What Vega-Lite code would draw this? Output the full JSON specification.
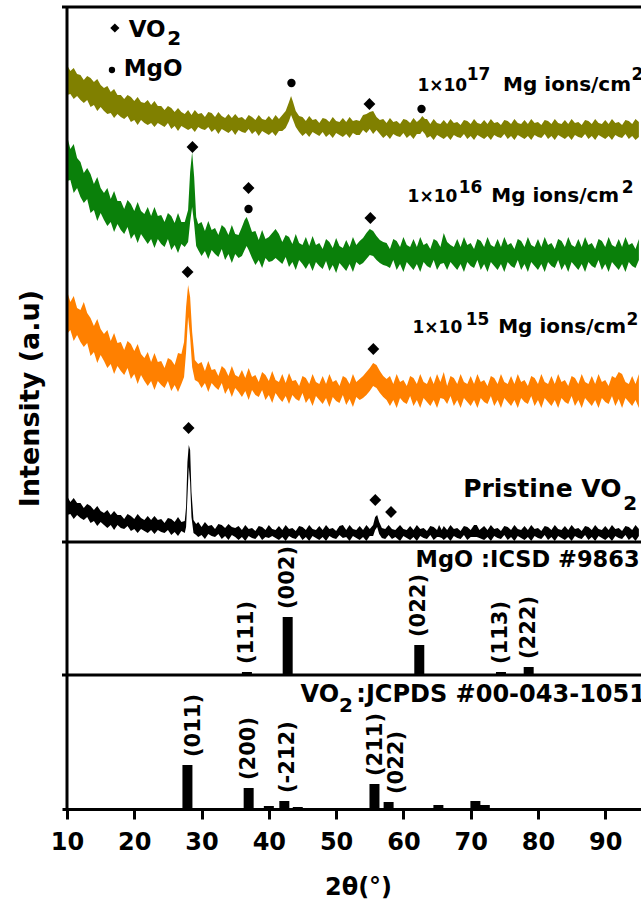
{
"$schema": "https://vega.github.io/schema/vega-lite/v6.json",
"width": 579, "height": 802,
"autosize": {"type": "none"},
"padding": {"left": 62, "top": 7, "right": 0, "bottom": 92},
"background": "white",
"config": {"view": {"stroke": null}, "font": "DejaVu Sans"},
"datasets": {
"spec": [
{"s":"L","x":10,"l":447,"h":477},{"s":"L","x":10.5,"l":448,"h":471},{"s":"L","x":11,"l":443,"h":474},{"s":"L","x":11.5,"l":446,"h":468},{"s":"L","x":12,"l":442,"h":467},{"s":"L","x":12.5,"l":439,"h":462},{"s":"L","x":13,"l":442,"h":466},{"s":"L","x":13.5,"l":435,"h":464},{"s":"L","x":14,"l":437,"h":460},{"s":"L","x":14.5,"l":431,"h":463},{"s":"L","x":15,"l":435,"h":457},{"s":"L","x":15.5,"l":431,"h":454},{"s":"L","x":16,"l":428,"h":456},{"s":"L","x":16.5,"l":429,"h":450},{"s":"L","x":17,"l":424,"h":453},{"s":"L","x":17.5,"l":428,"h":447},{"s":"L","x":18,"l":425,"h":447},{"s":"L","x":18.5,"l":423,"h":443},{"s":"L","x":19,"l":426,"h":447},{"s":"L","x":19.5,"l":420,"h":445},{"s":"L","x":20,"l":422,"h":441},{"s":"L","x":20.5,"l":417,"h":445},{"s":"L","x":21,"l":422,"h":440},{"s":"L","x":21.5,"l":419,"h":439},{"s":"L","x":22,"l":417,"h":442},{"s":"L","x":22.5,"l":419,"h":437},{"s":"L","x":23,"l":415,"h":441},{"s":"L","x":23.5,"l":419,"h":436},{"s":"L","x":24,"l":417,"h":436},{"s":"L","x":24.5,"l":415,"h":432},{"s":"L","x":25,"l":419,"h":436},{"s":"L","x":25.5,"l":413,"h":434},{"s":"L","x":26,"l":416,"h":430},{"s":"L","x":26.5,"l":411,"h":434},{"s":"L","x":27,"l":416,"h":430},{"s":"L","x":27.5,"l":414,"h":428},{"s":"L","x":28,"l":412,"h":432},{"s":"L","x":28.5,"l":414,"h":427},{"s":"L","x":29,"l":410,"h":432},{"s":"L","x":29.5,"l":415,"h":428},{"s":"L","x":30,"l":413,"h":429},{"s":"L","x":30.5,"l":412,"h":425},{"s":"L","x":31,"l":415,"h":430},{"s":"L","x":31.5,"l":410,"h":429},{"s":"L","x":32,"l":413,"h":425},{"s":"L","x":32.5,"l":408,"h":430},{"s":"L","x":33,"l":413,"h":426},{"s":"L","x":33.5,"l":411,"h":424},{"s":"L","x":34,"l":409,"h":428},{"s":"L","x":34.5,"l":412,"h":424},{"s":"L","x":35,"l":407,"h":428},{"s":"L","x":35.5,"l":412,"h":424},{"s":"L","x":36,"l":410,"h":425},{"s":"L","x":36.5,"l":409,"h":422},{"s":"L","x":37,"l":413,"h":427},{"s":"L","x":37.5,"l":408,"h":425},{"s":"L","x":38,"l":411,"h":422},{"s":"L","x":38.5,"l":406,"h":427},{"s":"L","x":39,"l":411,"h":423},{"s":"L","x":39.5,"l":409,"h":422},{"s":"L","x":40,"l":407,"h":426},{"s":"L","x":40.5,"l":410,"h":422},{"s":"L","x":41,"l":406,"h":427},{"s":"L","x":41.5,"l":411,"h":423},{"s":"L","x":42,"l":411,"h":427},{"s":"L","x":42.5,"l":414,"h":431},{"s":"L","x":43,"l":421,"h":440},{"s":"L","x":43.3,"l":427,"h":446},{"s":"L","x":43.6,"l":422,"h":440},{"s":"L","x":44,"l":415,"h":431},{"s":"L","x":44.5,"l":410,"h":426},{"s":"L","x":45,"l":406,"h":425},{"s":"L","x":45.5,"l":409,"h":421},{"s":"L","x":46,"l":405,"h":426},{"s":"L","x":46.5,"l":410,"h":422},{"s":"L","x":47,"l":408,"h":423},{"s":"L","x":47.5,"l":406,"h":419},{"s":"L","x":48,"l":410,"h":424},{"s":"L","x":48.5,"l":405,"h":423},{"s":"L","x":49,"l":408,"h":420},{"s":"L","x":49.5,"l":404,"h":425},{"s":"L","x":50,"l":409,"h":421},{"s":"L","x":50.5,"l":407,"h":420},{"s":"L","x":51,"l":405,"h":424},{"s":"L","x":51.5,"l":408,"h":420},{"s":"L","x":52,"l":404,"h":425},{"s":"L","x":52.5,"l":409,"h":421},{"s":"L","x":53,"l":407,"h":422},{"s":"L","x":53.5,"l":407,"h":421},{"s":"L","x":54,"l":412,"h":427},{"s":"L","x":54.5,"l":409,"h":428},{"s":"L","x":55,"l":413,"h":430},{"s":"L","x":55.5,"l":408,"h":431},{"s":"L","x":56,"l":412,"h":425},{"s":"L","x":56.5,"l":408,"h":422},{"s":"L","x":57,"l":404,"h":423},{"s":"L","x":57.5,"l":407,"h":419},{"s":"L","x":58,"l":403,"h":424},{"s":"L","x":58.5,"l":408,"h":420},{"s":"L","x":59,"l":406,"h":421},{"s":"L","x":59.5,"l":405,"h":418},{"s":"L","x":60,"l":409,"h":423},{"s":"L","x":60.5,"l":404,"h":422},{"s":"L","x":61,"l":407,"h":419},{"s":"L","x":61.5,"l":403,"h":424},{"s":"L","x":62,"l":408,"h":420},{"s":"L","x":62.5,"l":408,"h":423},{"s":"L","x":62.8,"l":411,"h":426},{"s":"L","x":63.2,"l":408,"h":423},{"s":"L","x":63.5,"l":404,"h":423},{"s":"L","x":64,"l":406,"h":418},{"s":"L","x":64.5,"l":402,"h":423},{"s":"L","x":65,"l":407,"h":419},{"s":"L","x":65.5,"l":405,"h":418},{"s":"L","x":66,"l":403,"h":422},{"s":"L","x":66.5,"l":406,"h":418},{"s":"L","x":67,"l":402,"h":423},{"s":"L","x":67.5,"l":407,"h":419},{"s":"L","x":68,"l":405,"h":420},{"s":"L","x":68.5,"l":404,"h":417},{"s":"L","x":69,"l":408,"h":422},{"s":"L","x":69.5,"l":403,"h":421},{"s":"L","x":70,"l":406,"h":418},{"s":"L","x":70.5,"l":402,"h":423},{"s":"L","x":71,"l":407,"h":419},{"s":"L","x":71.5,"l":405,"h":418},{"s":"L","x":72,"l":403,"h":422},{"s":"L","x":72.5,"l":406,"h":418},{"s":"L","x":73,"l":402,"h":423},{"s":"L","x":73.5,"l":407,"h":419},{"s":"L","x":74,"l":405,"h":420},{"s":"L","x":74.5,"l":404,"h":417},{"s":"L","x":75,"l":408,"h":422},{"s":"L","x":75.5,"l":403,"h":421},{"s":"L","x":76,"l":406,"h":418},{"s":"L","x":76.5,"l":402,"h":423},{"s":"L","x":77,"l":407,"h":419},{"s":"L","x":77.5,"l":405,"h":418},{"s":"L","x":78,"l":403,"h":422},{"s":"L","x":78.5,"l":406,"h":418},{"s":"L","x":79,"l":402,"h":423},{"s":"L","x":79.5,"l":407,"h":419},{"s":"L","x":80,"l":405,"h":420},{"s":"L","x":80.5,"l":404,"h":417},{"s":"L","x":81,"l":408,"h":422},{"s":"L","x":81.5,"l":403,"h":421},{"s":"L","x":82,"l":406,"h":418},{"s":"L","x":82.5,"l":402,"h":423},{"s":"L","x":83,"l":407,"h":419},{"s":"L","x":83.5,"l":405,"h":418},{"s":"L","x":84,"l":403,"h":422},{"s":"L","x":84.5,"l":406,"h":418},{"s":"L","x":85,"l":402,"h":423},{"s":"L","x":85.5,"l":407,"h":419},{"s":"L","x":86,"l":405,"h":420},{"s":"L","x":86.5,"l":404,"h":417},{"s":"L","x":87,"l":408,"h":422},{"s":"L","x":87.5,"l":403,"h":421},{"s":"L","x":88,"l":406,"h":418},{"s":"L","x":88.5,"l":402,"h":423},{"s":"L","x":89,"l":407,"h":419},{"s":"L","x":89.5,"l":405,"h":418},{"s":"L","x":90,"l":403,"h":422},{"s":"L","x":90.5,"l":406,"h":418},{"s":"L","x":91,"l":402,"h":423},{"s":"L","x":91.5,"l":407,"h":419},{"s":"L","x":92,"l":405,"h":420},{"s":"L","x":92.5,"l":404,"h":417},{"s":"L","x":93,"l":408,"h":422},{"s":"L","x":93.5,"l":403,"h":421},{"s":"L","x":94,"l":406,"h":418},{"s":"L","x":94.5,"l":402,"h":423},{"s":"L","x":95,"l":405,"h":420},
{"s":"G","x":10,"l":361,"h":406},{"s":"G","x":10.5,"l":362,"h":393},{"s":"G","x":11,"l":349,"h":398},{"s":"G","x":11.5,"l":354,"h":384},{"s":"G","x":12,"l":345,"h":380},{"s":"G","x":12.5,"l":339,"h":369},{"s":"G","x":13,"l":343,"h":374},{"s":"G","x":13.5,"l":329,"h":368},{"s":"G","x":14,"l":332,"h":358},{"s":"G","x":14.5,"l":321,"h":365},{"s":"G","x":15,"l":329,"h":354},{"s":"G","x":15.5,"l":322,"h":349},{"s":"G","x":16,"l":316,"h":354},{"s":"G","x":16.5,"l":320,"h":343},{"s":"G","x":17,"l":310,"h":351},{"s":"G","x":17.5,"l":318,"h":341},{"s":"G","x":18,"l":312,"h":341},{"s":"G","x":18.5,"l":308,"h":333},{"s":"G","x":19,"l":315,"h":342},{"s":"G","x":19.5,"l":303,"h":338},{"s":"G","x":20,"l":308,"h":331},{"s":"G","x":20.5,"l":299,"h":340},{"s":"G","x":21,"l":308,"h":331},{"s":"G","x":21.5,"l":303,"h":328},{"s":"G","x":22,"l":298,"h":335},{"s":"G","x":22.5,"l":303,"h":326},{"s":"G","x":23,"l":294,"h":335},{"s":"G","x":23.5,"l":303,"h":326},{"s":"G","x":24,"l":298,"h":327},{"s":"G","x":24.5,"l":295,"h":320},{"s":"G","x":25,"l":303,"h":329},{"s":"G","x":25.5,"l":292,"h":326},{"s":"G","x":26,"l":297,"h":319},{"s":"G","x":26.5,"l":289,"h":329},{"s":"G","x":27,"l":298,"h":320},{"s":"G","x":27.5,"l":295,"h":320},{"s":"G","x":28,"l":300,"h":332},{"s":"G","x":28.3,"l":320,"h":370},{"s":"G","x":28.6,"l":335,"h":390},{"s":"G","x":28.9,"l":318,"h":365},{"s":"G","x":29.2,"l":296,"h":325},{"s":"G","x":29.5,"l":292,"h":318},{"s":"G","x":30,"l":286,"h":320},{"s":"G","x":30.5,"l":291,"h":311},{"s":"G","x":31,"l":283,"h":321},{"s":"G","x":31.5,"l":292,"h":312},{"s":"G","x":32,"l":288,"h":314},{"s":"G","x":32.5,"l":285,"h":307},{"s":"G","x":33,"l":293,"h":317},{"s":"G","x":33.5,"l":282,"h":314},{"s":"G","x":34,"l":288,"h":307},{"s":"G","x":34.5,"l":279,"h":317},{"s":"G","x":35,"l":288,"h":308},{"s":"G","x":35.5,"l":284,"h":307},{"s":"G","x":36,"l":286,"h":315},{"s":"G","x":36.4,"l":292,"h":322},{"s":"G","x":36.7,"l":296,"h":325},{"s":"G","x":37,"l":292,"h":320},{"s":"G","x":37.5,"l":284,"h":310},{"s":"G","x":38,"l":277,"h":311},{"s":"G","x":38.5,"l":282,"h":302},{"s":"G","x":39,"l":274,"h":312},{"s":"G","x":39.5,"l":284,"h":303},{"s":"G","x":40,"l":280,"h":305},{"s":"G","x":40.5,"l":281,"h":309},{"s":"G","x":41,"l":284,"h":313},{"s":"G","x":41.5,"l":281,"h":308},{"s":"G","x":42,"l":278,"h":300},{"s":"G","x":42.5,"l":285,"h":307},{"s":"G","x":43,"l":275,"h":305},{"s":"G","x":43.5,"l":280,"h":298},{"s":"G","x":44,"l":272,"h":308},{"s":"G","x":44.5,"l":282,"h":299},{"s":"G","x":45,"l":278,"h":297},{"s":"G","x":45.5,"l":273,"h":305},{"s":"G","x":46,"l":279,"h":296},{"s":"G","x":46.5,"l":271,"h":306},{"s":"G","x":47,"l":280,"h":297},{"s":"G","x":47.5,"l":276,"h":299},{"s":"G","x":48,"l":273,"h":293},{"s":"G","x":48.5,"l":281,"h":303},{"s":"G","x":49,"l":271,"h":300},{"s":"G","x":49.5,"l":277,"h":294},{"s":"G","x":50,"l":269,"h":304},{"s":"G","x":50.5,"l":279,"h":296},{"s":"G","x":51,"l":275,"h":294},{"s":"G","x":51.5,"l":271,"h":302},{"s":"G","x":52,"l":278,"h":295},{"s":"G","x":52.5,"l":270,"h":305},{"s":"G","x":53,"l":280,"h":297},{"s":"G","x":53.5,"l":277,"h":301},{"s":"G","x":54,"l":279,"h":304},{"s":"G","x":54.5,"l":283,"h":309},{"s":"G","x":55,"l":287,"h":313},{"s":"G","x":55.5,"l":286,"h":311},{"s":"G","x":56,"l":282,"h":306},{"s":"G","x":56.5,"l":279,"h":302},{"s":"G","x":57,"l":277,"h":300},{"s":"G","x":57.5,"l":276,"h":299},{"s":"G","x":58,"l":274,"h":293},{"s":"G","x":58.5,"l":282,"h":303},{"s":"G","x":59,"l":272,"h":301},{"s":"G","x":59.5,"l":278,"h":295},{"s":"G","x":60,"l":270,"h":305},{"s":"G","x":60.5,"l":280,"h":297},{"s":"G","x":61,"l":276,"h":295},{"s":"G","x":61.5,"l":272,"h":303},{"s":"G","x":62,"l":278,"h":295},{"s":"G","x":62.5,"l":270,"h":305},{"s":"G","x":63,"l":280,"h":297},{"s":"G","x":63.5,"l":276,"h":299},{"s":"G","x":64,"l":274,"h":293},{"s":"G","x":64.5,"l":282,"h":303},{"s":"G","x":65,"l":272,"h":301},{"s":"G","x":65.5,"l":278,"h":295},{"s":"G","x":66,"l":279,"h":309},{"s":"G","x":66.5,"l":272,"h":300},{"s":"G","x":67,"l":280,"h":297},{"s":"G","x":67.5,"l":276,"h":295},{"s":"G","x":68,"l":272,"h":303},{"s":"G","x":68.5,"l":278,"h":295},{"s":"G","x":69,"l":270,"h":305},{"s":"G","x":69.5,"l":280,"h":297},{"s":"G","x":70,"l":276,"h":299},{"s":"G","x":70.5,"l":274,"h":293},{"s":"G","x":71,"l":282,"h":303},{"s":"G","x":71.5,"l":272,"h":301},{"s":"G","x":72,"l":278,"h":295},{"s":"G","x":72.5,"l":270,"h":305},{"s":"G","x":73,"l":280,"h":297},{"s":"G","x":73.5,"l":276,"h":295},{"s":"G","x":74,"l":272,"h":303},{"s":"G","x":74.5,"l":278,"h":295},{"s":"G","x":75,"l":270,"h":305},{"s":"G","x":75.5,"l":280,"h":297},{"s":"G","x":76,"l":276,"h":299},{"s":"G","x":76.5,"l":274,"h":293},{"s":"G","x":77,"l":282,"h":303},{"s":"G","x":77.5,"l":272,"h":301},{"s":"G","x":78,"l":278,"h":295},{"s":"G","x":78.5,"l":270,"h":305},{"s":"G","x":79,"l":280,"h":297},{"s":"G","x":79.5,"l":276,"h":295},{"s":"G","x":80,"l":272,"h":303},{"s":"G","x":80.5,"l":278,"h":295},{"s":"G","x":81,"l":270,"h":305},{"s":"G","x":81.5,"l":280,"h":297},{"s":"G","x":82,"l":276,"h":299},{"s":"G","x":82.5,"l":274,"h":293},{"s":"G","x":83,"l":282,"h":303},{"s":"G","x":83.5,"l":272,"h":301},{"s":"G","x":84,"l":278,"h":295},{"s":"G","x":84.5,"l":270,"h":305},{"s":"G","x":85,"l":280,"h":297},{"s":"G","x":85.5,"l":276,"h":295},{"s":"G","x":86,"l":272,"h":303},{"s":"G","x":86.5,"l":278,"h":295},{"s":"G","x":87,"l":270,"h":305},{"s":"G","x":87.5,"l":280,"h":297},{"s":"G","x":88,"l":276,"h":299},{"s":"G","x":88.5,"l":274,"h":293},{"s":"G","x":89,"l":282,"h":303},{"s":"G","x":89.5,"l":272,"h":301},{"s":"G","x":90,"l":278,"h":295},{"s":"G","x":90.5,"l":270,"h":305},{"s":"G","x":91,"l":280,"h":297},{"s":"G","x":91.5,"l":276,"h":295},{"s":"G","x":92,"l":272,"h":303},{"s":"G","x":92.5,"l":278,"h":295},{"s":"G","x":93,"l":270,"h":305},{"s":"G","x":93.5,"l":280,"h":297},{"s":"G","x":94,"l":276,"h":299},{"s":"G","x":94.5,"l":274,"h":293},{"s":"G","x":95,"l":282,"h":303},
{"s":"O","x":10,"l":208,"h":251},{"s":"O","x":10.5,"l":212,"h":240},{"s":"O","x":11,"l":201,"h":246},{"s":"O","x":11.5,"l":207,"h":234},{"s":"O","x":12,"l":200,"h":232},{"s":"O","x":12.5,"l":195,"h":240},{"s":"O","x":13,"l":199,"h":229},{"s":"O","x":13.5,"l":186,"h":224},{"s":"O","x":14,"l":190,"h":216},{"s":"O","x":14.5,"l":179,"h":223},{"s":"O","x":15,"l":187,"h":213},{"s":"O","x":15.5,"l":181,"h":208},{"s":"O","x":16,"l":174,"h":212},{"s":"O","x":16.5,"l":178,"h":201},{"s":"O","x":17,"l":168,"h":209},{"s":"O","x":17.5,"l":176,"h":199},{"s":"O","x":18,"l":171,"h":200},{"s":"O","x":18.5,"l":167,"h":192},{"s":"O","x":19,"l":174,"h":201},{"s":"O","x":19.5,"l":163,"h":198},{"s":"O","x":20,"l":168,"h":191},{"s":"O","x":20.5,"l":158,"h":198},{"s":"O","x":21,"l":167,"h":188},{"s":"O","x":21.5,"l":161,"h":184},{"s":"O","x":22,"l":156,"h":190},{"s":"O","x":22.5,"l":161,"h":180},{"s":"O","x":23,"l":152,"h":189},{"s":"O","x":23.5,"l":161,"h":180},{"s":"O","x":24,"l":157,"h":181},{"s":"O","x":24.5,"l":154,"h":174},{"s":"O","x":25,"l":161,"h":184},{"s":"O","x":25.5,"l":151,"h":182},{"s":"O","x":26,"l":157,"h":177},{"s":"O","x":26.5,"l":150,"h":189},{"s":"O","x":27,"l":158,"h":188},{"s":"O","x":27.4,"l":165,"h":200},{"s":"O","x":27.7,"l":190,"h":235},{"s":"O","x":28,"l":225,"h":257},{"s":"O","x":28.3,"l":205,"h":245},{"s":"O","x":28.6,"l":175,"h":210},{"s":"O","x":29,"l":162,"h":182},{"s":"O","x":29.5,"l":160,"h":178},{"s":"O","x":30,"l":154,"h":180},{"s":"O","x":30.5,"l":159,"h":171},{"s":"O","x":31,"l":150,"h":181},{"s":"O","x":31.5,"l":159,"h":172},{"s":"O","x":32,"l":155,"h":173},{"s":"O","x":32.5,"l":152,"h":166},{"s":"O","x":33,"l":159,"h":176},{"s":"O","x":33.5,"l":148,"h":173},{"s":"O","x":34,"l":154,"h":166},{"s":"O","x":34.5,"l":145,"h":176},{"s":"O","x":35,"l":154,"h":167},{"s":"O","x":35.5,"l":150,"h":165},{"s":"O","x":36,"l":145,"h":172},{"s":"O","x":36.5,"l":151,"h":164},{"s":"O","x":37,"l":142,"h":174},{"s":"O","x":37.5,"l":152,"h":165},{"s":"O","x":38,"l":147,"h":167},{"s":"O","x":38.5,"l":145,"h":160},{"s":"O","x":39,"l":152,"h":170},{"s":"O","x":39.5,"l":142,"h":167},{"s":"O","x":40,"l":147,"h":161},{"s":"O","x":40.5,"l":139,"h":171},{"s":"O","x":41,"l":149,"h":162},{"s":"O","x":41.5,"l":144,"h":160},{"s":"O","x":42,"l":140,"h":168},{"s":"O","x":42.5,"l":146,"h":159},{"s":"O","x":43,"l":138,"h":169},{"s":"O","x":43.5,"l":147,"h":161},{"s":"O","x":44,"l":143,"h":162},{"s":"O","x":44.5,"l":141,"h":156},{"s":"O","x":45,"l":149,"h":166},{"s":"O","x":45.5,"l":139,"h":164},{"s":"O","x":46,"l":144,"h":158},{"s":"O","x":46.5,"l":136,"h":168},{"s":"O","x":47,"l":146,"h":160},{"s":"O","x":47.5,"l":142,"h":158},{"s":"O","x":48,"l":138,"h":166},{"s":"O","x":48.5,"l":144,"h":158},{"s":"O","x":49,"l":135,"h":168},{"s":"O","x":49.5,"l":145,"h":160},{"s":"O","x":50,"l":141,"h":162},{"s":"O","x":50.5,"l":139,"h":156},{"s":"O","x":51,"l":147,"h":166},{"s":"O","x":51.5,"l":137,"h":164},{"s":"O","x":52,"l":143,"h":158},{"s":"O","x":52.5,"l":135,"h":168},{"s":"O","x":53,"l":145,"h":160},{"s":"O","x":53.5,"l":142,"h":163},{"s":"O","x":54,"l":144,"h":166},{"s":"O","x":54.5,"l":147,"h":170},{"s":"O","x":55,"l":151,"h":174},{"s":"O","x":55.5,"l":156,"h":179},{"s":"O","x":56,"l":154,"h":177},{"s":"O","x":56.5,"l":149,"h":171},{"s":"O","x":57,"l":145,"h":166},{"s":"O","x":57.5,"l":142,"h":163},{"s":"O","x":58,"l":136,"h":166},{"s":"O","x":58.5,"l":142,"h":158},{"s":"O","x":59,"l":134,"h":168},{"s":"O","x":59.5,"l":144,"h":160},{"s":"O","x":60,"l":140,"h":162},{"s":"O","x":60.5,"l":138,"h":156},{"s":"O","x":61,"l":146,"h":166},{"s":"O","x":61.5,"l":136,"h":164},{"s":"O","x":62,"l":142,"h":158},{"s":"O","x":62.5,"l":134,"h":168},{"s":"O","x":63,"l":144,"h":160},{"s":"O","x":63.5,"l":140,"h":158},{"s":"O","x":64,"l":136,"h":166},{"s":"O","x":64.5,"l":142,"h":158},{"s":"O","x":65,"l":134,"h":168},{"s":"O","x":65.5,"l":144,"h":160},{"s":"O","x":66,"l":143,"h":170},{"s":"O","x":66.5,"l":138,"h":156},{"s":"O","x":67,"l":146,"h":166},{"s":"O","x":67.5,"l":136,"h":164},{"s":"O","x":68,"l":142,"h":158},{"s":"O","x":68.5,"l":134,"h":168},{"s":"O","x":69,"l":144,"h":160},{"s":"O","x":69.5,"l":140,"h":158},{"s":"O","x":70,"l":136,"h":166},{"s":"O","x":70.5,"l":142,"h":158},{"s":"O","x":71,"l":134,"h":168},{"s":"O","x":71.5,"l":144,"h":160},{"s":"O","x":72,"l":140,"h":162},{"s":"O","x":72.5,"l":138,"h":156},{"s":"O","x":73,"l":146,"h":166},{"s":"O","x":73.5,"l":136,"h":164},{"s":"O","x":74,"l":142,"h":158},{"s":"O","x":74.5,"l":134,"h":168},{"s":"O","x":75,"l":144,"h":160},{"s":"O","x":75.5,"l":140,"h":158},{"s":"O","x":76,"l":136,"h":166},{"s":"O","x":76.5,"l":142,"h":158},{"s":"O","x":77,"l":134,"h":168},{"s":"O","x":77.5,"l":144,"h":160},{"s":"O","x":78,"l":140,"h":162},{"s":"O","x":78.5,"l":138,"h":156},{"s":"O","x":79,"l":146,"h":166},{"s":"O","x":79.5,"l":136,"h":164},{"s":"O","x":80,"l":142,"h":158},{"s":"O","x":80.5,"l":134,"h":168},{"s":"O","x":81,"l":144,"h":160},{"s":"O","x":81.5,"l":140,"h":158},{"s":"O","x":82,"l":136,"h":166},{"s":"O","x":82.5,"l":142,"h":158},{"s":"O","x":83,"l":134,"h":168},{"s":"O","x":83.5,"l":144,"h":160},{"s":"O","x":84,"l":140,"h":162},{"s":"O","x":84.5,"l":138,"h":156},{"s":"O","x":85,"l":146,"h":166},{"s":"O","x":85.5,"l":136,"h":164},{"s":"O","x":86,"l":142,"h":158},{"s":"O","x":86.5,"l":134,"h":168},{"s":"O","x":87,"l":144,"h":160},{"s":"O","x":87.5,"l":140,"h":158},{"s":"O","x":88,"l":136,"h":166},{"s":"O","x":88.5,"l":142,"h":158},{"s":"O","x":89,"l":134,"h":168},{"s":"O","x":89.5,"l":144,"h":160},{"s":"O","x":90,"l":140,"h":162},{"s":"O","x":90.5,"l":138,"h":156},{"s":"O","x":91,"l":146,"h":166},{"s":"O","x":91.5,"l":136,"h":164},{"s":"O","x":92,"l":143,"h":170},{"s":"O","x":92.5,"l":134,"h":168},{"s":"O","x":93,"l":144,"h":160},{"s":"O","x":93.5,"l":140,"h":158},{"s":"O","x":94,"l":136,"h":166},{"s":"O","x":94.5,"l":142,"h":158},{"s":"O","x":95,"l":134,"h":168},
{"s":"P","x":10,"l":27,"h":46},{"s":"P","x":10.5,"l":28,"h":40},{"s":"P","x":11,"l":23,"h":44},{"s":"P","x":11.5,"l":27,"h":39},{"s":"P","x":12,"l":24,"h":39},{"s":"P","x":12.5,"l":22,"h":34},{"s":"P","x":13,"l":25,"h":38},{"s":"P","x":13.5,"l":19,"h":36},{"s":"P","x":14,"l":21,"h":32},{"s":"P","x":14.5,"l":16,"h":36},{"s":"P","x":15,"l":20,"h":31},{"s":"P","x":15.5,"l":17,"h":29},{"s":"P","x":16,"l":14,"h":32},{"s":"P","x":16.5,"l":17,"h":27},{"s":"P","x":17,"l":12,"h":31},{"s":"P","x":17.5,"l":17,"h":27},{"s":"P","x":18,"l":14,"h":27},{"s":"P","x":18.5,"l":13,"h":23},{"s":"P","x":19,"l":16,"h":28},{"s":"P","x":19.5,"l":11,"h":26},{"s":"P","x":20,"l":13,"h":23},{"s":"P","x":20.5,"l":9,"h":28},{"s":"P","x":21,"l":13,"h":24},{"s":"P","x":21.5,"l":11,"h":22},{"s":"P","x":22,"l":9,"h":26},{"s":"P","x":22.5,"l":12,"h":22},{"s":"P","x":23,"l":8,"h":26},{"s":"P","x":23.5,"l":12,"h":22},{"s":"P","x":24,"l":10,"h":23},{"s":"P","x":24.5,"l":9,"h":19},{"s":"P","x":25,"l":12,"h":24},{"s":"P","x":25.5,"l":7,"h":23},{"s":"P","x":26,"l":10,"h":20},{"s":"P","x":26.5,"l":6,"h":25},{"s":"P","x":27,"l":11,"h":20},{"s":"P","x":27.5,"l":9,"h":21},{"s":"P","x":27.7,"l":15,"h":35},{"s":"P","x":27.9,"l":45,"h":80},{"s":"P","x":28.1,"l":75,"h":97},{"s":"P","x":28.3,"l":60,"h":92},{"s":"P","x":28.5,"l":25,"h":50},{"s":"P","x":28.8,"l":9,"h":22},{"s":"P","x":29.2,"l":7,"h":18},{"s":"P","x":29.5,"l":5,"h":20},{"s":"P","x":30,"l":7,"h":15},{"s":"P","x":30.5,"l":3,"h":20},{"s":"P","x":31,"l":8,"h":16},{"s":"P","x":31.5,"l":6,"h":17},{"s":"P","x":32,"l":5,"h":13},{"s":"P","x":32.5,"l":8,"h":18},{"s":"P","x":33,"l":3,"h":17},{"s":"P","x":33.5,"l":6,"h":14},{"s":"P","x":34,"l":2,"h":18},{"s":"P","x":34.5,"l":7,"h":15},{"s":"P","x":35,"l":5,"h":14},{"s":"P","x":35.5,"l":2,"h":16},{"s":"P","x":36,"l":5,"h":12},{"s":"P","x":36.5,"l":1,"h":17},{"s":"P","x":37,"l":6,"h":13},{"s":"P","x":37.5,"l":4,"h":14},{"s":"P","x":38,"l":3,"h":11},{"s":"P","x":38.5,"l":7,"h":16},{"s":"P","x":39,"l":2,"h":15},{"s":"P","x":39.5,"l":5,"h":12},{"s":"P","x":40,"l":4,"h":17},{"s":"P","x":40.5,"l":6,"h":13},{"s":"P","x":41,"l":4,"h":12},{"s":"P","x":41.5,"l":2,"h":16},{"s":"P","x":42,"l":5,"h":12},{"s":"P","x":42.5,"l":1,"h":17},{"s":"P","x":43,"l":6,"h":13},{"s":"P","x":43.5,"l":4,"h":14},{"s":"P","x":44,"l":3,"h":11},{"s":"P","x":44.5,"l":7,"h":16},{"s":"P","x":45,"l":2,"h":15},{"s":"P","x":45.5,"l":5,"h":12},{"s":"P","x":46,"l":1,"h":17},{"s":"P","x":46.5,"l":6,"h":13},{"s":"P","x":47,"l":4,"h":12},{"s":"P","x":47.5,"l":2,"h":16},{"s":"P","x":48,"l":5,"h":12},{"s":"P","x":48.5,"l":1,"h":17},{"s":"P","x":49,"l":6,"h":13},{"s":"P","x":49.5,"l":4,"h":14},{"s":"P","x":50,"l":3,"h":11},{"s":"P","x":50.5,"l":7,"h":16},{"s":"P","x":51,"l":4,"h":17},{"s":"P","x":51.5,"l":5,"h":12},{"s":"P","x":52,"l":1,"h":17},{"s":"P","x":52.5,"l":6,"h":13},{"s":"P","x":53,"l":4,"h":12},{"s":"P","x":53.5,"l":2,"h":16},{"s":"P","x":54,"l":5,"h":12},{"s":"P","x":54.5,"l":1,"h":17},{"s":"P","x":55,"l":6,"h":13},{"s":"P","x":55.5,"l":6,"h":17},{"s":"P","x":55.8,"l":12,"h":25},{"s":"P","x":56.1,"l":15,"h":27},{"s":"P","x":56.4,"l":8,"h":20},{"s":"P","x":56.8,"l":4,"h":14},{"s":"P","x":57.3,"l":3,"h":13},{"s":"P","x":57.8,"l":7,"h":17},{"s":"P","x":58.3,"l":3,"h":13},{"s":"P","x":58.8,"l":5,"h":12},{"s":"P","x":59.5,"l":1,"h":17},{"s":"P","x":60,"l":6,"h":13},{"s":"P","x":60.5,"l":4,"h":12},{"s":"P","x":61,"l":2,"h":16},{"s":"P","x":61.5,"l":5,"h":12},{"s":"P","x":62,"l":1,"h":17},{"s":"P","x":62.5,"l":6,"h":13},{"s":"P","x":63,"l":4,"h":14},{"s":"P","x":63.5,"l":3,"h":11},{"s":"P","x":64,"l":7,"h":16},{"s":"P","x":64.5,"l":2,"h":15},{"s":"P","x":65,"l":5,"h":12},{"s":"P","x":65.3,"l":5,"h":17},{"s":"P","x":65.7,"l":4,"h":12},{"s":"P","x":66,"l":2,"h":16},{"s":"P","x":66.5,"l":5,"h":12},{"s":"P","x":67,"l":1,"h":17},{"s":"P","x":67.5,"l":6,"h":13},{"s":"P","x":68,"l":4,"h":14},{"s":"P","x":68.5,"l":3,"h":11},{"s":"P","x":69,"l":7,"h":16},{"s":"P","x":69.5,"l":2,"h":15},{"s":"P","x":70,"l":5,"h":12},{"s":"P","x":70.5,"l":5,"h":17},{"s":"P","x":70.9,"l":5,"h":17},{"s":"P","x":71.3,"l":4,"h":12},{"s":"P","x":72,"l":2,"h":16},{"s":"P","x":72.5,"l":5,"h":12},{"s":"P","x":73,"l":1,"h":17},{"s":"P","x":73.5,"l":6,"h":13},{"s":"P","x":74,"l":4,"h":14},{"s":"P","x":74.5,"l":3,"h":11},{"s":"P","x":75,"l":7,"h":16},{"s":"P","x":75.5,"l":2,"h":15},{"s":"P","x":76,"l":5,"h":12},{"s":"P","x":76.5,"l":1,"h":17},{"s":"P","x":77,"l":6,"h":13},{"s":"P","x":77.5,"l":4,"h":12},{"s":"P","x":78,"l":2,"h":16},{"s":"P","x":78.5,"l":5,"h":12},{"s":"P","x":79,"l":1,"h":17},{"s":"P","x":79.5,"l":6,"h":13},{"s":"P","x":80,"l":4,"h":14},{"s":"P","x":80.5,"l":3,"h":11},{"s":"P","x":81,"l":7,"h":16},{"s":"P","x":81.5,"l":2,"h":15},{"s":"P","x":82,"l":5,"h":12},{"s":"P","x":82.5,"l":1,"h":17},{"s":"P","x":83,"l":6,"h":13},{"s":"P","x":83.5,"l":4,"h":12},{"s":"P","x":84,"l":2,"h":16},{"s":"P","x":84.5,"l":5,"h":12},{"s":"P","x":85,"l":1,"h":17},{"s":"P","x":85.5,"l":6,"h":13},{"s":"P","x":86,"l":4,"h":14},{"s":"P","x":86.5,"l":3,"h":11},{"s":"P","x":87,"l":7,"h":16},{"s":"P","x":87.5,"l":2,"h":15},{"s":"P","x":88,"l":5,"h":12},{"s":"P","x":88.5,"l":1,"h":17},{"s":"P","x":89,"l":6,"h":13},{"s":"P","x":89.5,"l":4,"h":12},{"s":"P","x":90,"l":2,"h":16},{"s":"P","x":90.5,"l":5,"h":12},{"s":"P","x":91,"l":1,"h":17},{"s":"P","x":91.5,"l":6,"h":13},{"s":"P","x":92,"l":4,"h":14},{"s":"P","x":92.5,"l":3,"h":11},{"s":"P","x":93,"l":7,"h":16},{"s":"P","x":93.5,"l":2,"h":15},{"s":"P","x":94,"l":5,"h":12},{"s":"P","x":94.5,"l":1,"h":17},{"s":"P","x":95,"l":6,"h":13}
],
"mk": [
{"x":43.36,"y":459,"m":"c"},{"x":54.95,"y":438,"m":"d"},{"x":62.69,"y":433,"m":"c"},
{"x":28.65,"y":395,"m":"d"},{"x":36.98,"y":354,"m":"d"},{"x":36.98,"y":333,"m":"c"},{"x":55.09,"y":324,"m":"d"},
{"x":27.92,"y":270,"m":"d"},{"x":55.53,"y":193,"m":"d"},
{"x":28.07,"y":114,"m":"d"},{"x":55.82,"y":42,"m":"d"},{"x":58.16,"y":30,"m":"d"},
{"x":17.11,"y":514,"m":"ld"},{"x":16.68,"y":472,"m":"lc"}
],
"lab": [
{"x":62.08,"y":451,"t":"1×10","k":"n"},{"x":69.4,"y":462,"t":"17","k":"n"},{"x":74.82,"y":451,"t":"Mg ions/cm","k":"t"},{"x":93.9,"y":462,"t":"2","k":"n"},
{"x":60.62,"y":340,"t":"1×10","k":"n"},{"x":68.23,"y":349,"t":"16","k":"n"},{"x":73.06,"y":340,"t":"Mg ions/cm","k":"t"},{"x":92.45,"y":349,"t":"2","k":"n"},
{"x":61.35,"y":209,"t":"1×10","k":"n"},{"x":69.26,"y":217,"t":"15","k":"n"},{"x":74.09,"y":209,"t":"Mg ions/cm","k":"t"},{"x":93.15,"y":217,"t":"2","k":"n"},
{"x":68.89,"y":45,"t":"Pristine VO","k":"p"},{"x":92.68,"y":32,"t":"2","k":"t"},
{"x":19.16,"y":505,"t":"VO","k":"g"},{"x":24.9,"y":497,"t":"2","k":"t"},{"x":18.43,"y":466,"t":"MgO","k":"g"}
],
"mgo": [
{"x":36.74,"h":3,"t":"(111)"},{"x":42.8,"h":58,"t":"(002)"},{"x":62.36,"h":30,"t":"(022)"},{"x":74.5,"h":3,"t":"(113)"},{"x":78.62,"h":8,"t":"(222)"}
],
"vo2": [
{"x":27.9,"h":44,"t":"(011)","lx":28.9},{"x":37.0,"h":21,"t":"(200)","lx":37.0},{"x":40.0,"h":3},{"x":42.3,"h":8,"t":"(-212)","lx":42.9},{"x":44.3,"h":2},{"x":55.7,"h":25,"t":"(211)","lx":55.9},{"x":57.8,"h":7,"t":"(022)","lx":59.0},{"x":65.2,"h":4},{"x":70.7,"h":8},{"x":72.1,"h":4},{"x":83.8,"h":1}
]
},
"resolve": {"scale": {"y": "independent"}},
"layer": [
{
"layer": [
{"data": {"name": "spec"}, "mark": {"type": "area", "interpolate": "linear"},
 "encoding": {
  "x": {"field": "x", "type": "quantitative", "title": "2θ(°)", "scale": {"domain": [10, 94.57], "nice": false, "zero": false}},
  "y": {"field": "h", "type": "quantitative", "title": "Intensity (a.u)", "scale": {"domain": [0, 535], "range": [535, 0], "nice": false, "zero": false},
        "axis": {"title": "Intensity (a.u)", "domain": false, "ticks": false, "labels": false, "grid": false, "titleFont": "DejaVu Sans", "titleFontSize": 27, "titleFontWeight": "bold", "titleColor": "black", "titleAngle": 270, "titleX": -32, "titleY": 391, "titleAlign": "center", "titleBaseline": "middle"}},
  "y2": {"field": "l"},
  "color": {"field": "s", "type": "nominal", "scale": {"domain": ["L", "G", "O", "P"], "range": ["#808000", "#0a800a", "#ff8000", "#000000"]}, "legend": null}
 }},
{"data": {"name": "mk"}, "transform": [{"filter": "datum.m === 'd'"}], "mark": {"type": "point", "shape": "diamond", "filled": true, "color": "black", "size": 140, "opacity": 1},
 "encoding": {
  "x": {"field": "x", "type": "quantitative", "title": "2θ(°)", "scale": {"domain": [10, 94.57], "nice": false, "zero": false}},
  "y": {"field": "y", "type": "quantitative", "title": "Intensity (a.u)", "scale": {"domain": [0, 535], "range": [535, 0], "nice": false, "zero": false}}}},
{"data": {"name": "mk"}, "transform": [{"filter": "datum.m === 'c'"}], "mark": {"type": "point", "shape": "circle", "filled": true, "color": "black", "size": 70, "opacity": 1},
 "encoding": {
  "x": {"field": "x", "type": "quantitative", "title": "2θ(°)", "scale": {"domain": [10, 94.57], "nice": false, "zero": false}},
  "y": {"field": "y", "type": "quantitative", "title": "Intensity (a.u)", "scale": {"domain": [0, 535], "range": [535, 0], "nice": false, "zero": false}}}},
{"data": {"name": "mk"}, "transform": [{"filter": "datum.m === 'ld'"}], "mark": {"type": "point", "shape": "diamond", "filled": true, "color": "black", "size": 85, "opacity": 1},
 "encoding": {
  "x": {"field": "x", "type": "quantitative", "title": "2θ(°)", "scale": {"domain": [10, 94.57], "nice": false, "zero": false}},
  "y": {"field": "y", "type": "quantitative", "title": "Intensity (a.u)", "scale": {"domain": [0, 535], "range": [535, 0], "nice": false, "zero": false}}}},
{"data": {"name": "mk"}, "transform": [{"filter": "datum.m === 'lc'"}], "mark": {"type": "point", "shape": "circle", "filled": true, "color": "black", "size": 40, "opacity": 1},
 "encoding": {
  "x": {"field": "x", "type": "quantitative", "title": "2θ(°)", "scale": {"domain": [10, 94.57], "nice": false, "zero": false}},
  "y": {"field": "y", "type": "quantitative", "title": "Intensity (a.u)", "scale": {"domain": [0, 535], "range": [535, 0], "nice": false, "zero": false}}}},
{"data": {"name": "lab"}, "transform": [{"filter": "datum.k === 'n'"}], "mark": {"type": "text", "align": "left", "baseline": "alphabetic", "font": "DejaVu Sans", "fontWeight": "bold", "fontSize": 17, "color": "black"},
 "encoding": {
  "x": {"field": "x", "type": "quantitative", "title": "2θ(°)", "scale": {"domain": [10, 94.57], "nice": false, "zero": false}},
  "y": {"field": "y", "type": "quantitative", "title": "Intensity (a.u)", "scale": {"domain": [0, 535], "range": [535, 0], "nice": false, "zero": false}},
  "text": {"field": "t"}}},
{"data": {"name": "lab"}, "transform": [{"filter": "datum.k === 't'"}], "mark": {"type": "text", "align": "left", "baseline": "alphabetic", "font": "DejaVu Sans", "fontWeight": "bold", "fontSize": 20, "color": "black"},
 "encoding": {
  "x": {"field": "x", "type": "quantitative", "title": "2θ(°)", "scale": {"domain": [10, 94.57], "nice": false, "zero": false}},
  "y": {"field": "y", "type": "quantitative", "title": "Intensity (a.u)", "scale": {"domain": [0, 535], "range": [535, 0], "nice": false, "zero": false}},
  "text": {"field": "t"}}},
{"data": {"name": "lab"}, "transform": [{"filter": "datum.k === 'p'"}], "mark": {"type": "text", "align": "left", "baseline": "alphabetic", "font": "DejaVu Sans", "fontWeight": "bold", "fontSize": 25, "color": "black"},
 "encoding": {
  "x": {"field": "x", "type": "quantitative", "title": "2θ(°)", "scale": {"domain": [10, 94.57], "nice": false, "zero": false}},
  "y": {"field": "y", "type": "quantitative", "title": "Intensity (a.u)", "scale": {"domain": [0, 535], "range": [535, 0], "nice": false, "zero": false}},
  "text": {"field": "t"}}},
{"data": {"name": "lab"}, "transform": [{"filter": "datum.k === 'g'"}], "mark": {"type": "text", "align": "left", "baseline": "alphabetic", "font": "DejaVu Sans", "fontWeight": "bold", "fontSize": 23, "color": "black"},
 "encoding": {
  "x": {"field": "x", "type": "quantitative", "title": "2θ(°)", "scale": {"domain": [10, 94.57], "nice": false, "zero": false}},
  "y": {"field": "y", "type": "quantitative", "title": "Intensity (a.u)", "scale": {"domain": [0, 535], "range": [535, 0], "nice": false, "zero": false}},
  "text": {"field": "t"}}},
{"data": {"values": [{"v": 0}, {"v": 535}]}, "mark": {"type": "rule", "strokeWidth": 3, "color": "black"},
 "encoding": {
  "y": {"field": "v", "type": "quantitative", "title": "Intensity (a.u)", "scale": {"domain": [0, 535], "range": [535, 0], "nice": false, "zero": false}}}},
{"data": {"values": [{"v": 10}]}, "mark": {"type": "rule", "strokeWidth": 3, "color": "black"},
 "encoding": {
  "x": {"field": "v", "type": "quantitative", "title": "2θ(°)", "scale": {"domain": [10, 94.57], "nice": false, "zero": false}}}}
]
},
{
"layer": [
{"data": {"name": "mgo"}, "mark": {"type": "bar", "size": 10, "color": "black"},
 "encoding": {
  "x": {"field": "x", "type": "quantitative", "title": "2θ(°)", "scale": {"domain": [10, 94.57], "nice": false, "zero": false}},
  "y": {"field": "h", "type": "quantitative", "scale": {"domain": [0, 133], "range": [668, 535], "nice": false, "zero": false}, "axis": null}}},
{"data": {"name": "mgo"}, "mark": {"type": "text", "angle": 270, "align": "left", "baseline": "middle", "dx": 8, "font": "DejaVu Sans", "fontWeight": "bold", "fontSize": 21, "color": "black"},
 "encoding": {
  "x": {"field": "x", "type": "quantitative", "title": "2θ(°)", "scale": {"domain": [10, 94.57], "nice": false, "zero": false}},
  "y": {"field": "h", "type": "quantitative", "scale": {"domain": [0, 133], "range": [668, 535], "nice": false, "zero": false}, "axis": null},
  "text": {"field": "t"}}},
{"data": {"values": [{"x": 61.81, "y": 108, "t": "MgO :ICSD #9863"}]}, "mark": {"type": "text", "align": "left", "baseline": "alphabetic", "font": "DejaVu Sans", "fontWeight": "bold", "fontSize": 22.5, "color": "black"},
 "encoding": {
  "x": {"field": "x", "type": "quantitative", "title": "2θ(°)", "scale": {"domain": [10, 94.57], "nice": false, "zero": false}},
  "y": {"field": "y", "type": "quantitative", "scale": {"domain": [0, 133], "range": [668, 535], "nice": false, "zero": false}, "axis": null},
  "text": {"field": "t"}}},
{"data": {"values": [{"v": 0}]}, "mark": {"type": "rule", "strokeWidth": 3, "color": "black"},
 "encoding": {
  "y": {"field": "v", "type": "quantitative", "scale": {"domain": [0, 133], "range": [668, 535], "nice": false, "zero": false}, "axis": null}}}
]
},
{
"layer": [
{"data": {"name": "vo2"}, "mark": {"type": "bar", "size": 10, "color": "black"},
 "encoding": {
  "x": {"field": "x", "type": "quantitative", "title": "2θ(°)", "scale": {"domain": [10, 94.57], "nice": false, "zero": false},
        "axis": {"values": [10, 20, 30, 40, 50, 60, 70, 80, 90], "format": "d", "title": "2θ(°)", "grid": false, "domain": true, "domainColor": "black", "domainWidth": 3, "ticks": true, "tickSize": 10, "tickWidth": 3, "tickColor": "black", "labelFont": "DejaVu Sans", "labelFontSize": 24, "labelFontWeight": "bold", "labelColor": "black", "labelPadding": 11, "labelFlush": false, "labelOverlap": false, "titleFont": "DejaVu Sans", "titleFontSize": 24, "titleFontWeight": "bold", "titleColor": "black", "titleX": 296, "titleY": 78, "titleAlign": "center", "titleBaseline": "middle"}},
  "y": {"field": "h", "type": "quantitative", "scale": {"domain": [0, 134], "range": [802, 668], "nice": false, "zero": false}, "axis": null}}},
{"data": {"name": "vo2"}, "transform": [{"filter": "isValid(datum.t)"}], "mark": {"type": "text", "angle": 270, "align": "left", "baseline": "middle", "dx": 8, "font": "DejaVu Sans", "fontWeight": "bold", "fontSize": 21, "color": "black"},
 "encoding": {
  "x": {"field": "lx", "type": "quantitative", "title": "2θ(°)", "scale": {"domain": [10, 94.57], "nice": false, "zero": false}},
  "y": {"field": "h", "type": "quantitative", "scale": {"domain": [0, 134], "range": [802, 668], "nice": false, "zero": false}, "axis": null},
  "text": {"field": "t"}}},
{"data": {"values": [{"x": 44.71, "y": 107, "t": "VO"}, {"x": 53.0, "y": 107, "t": ":JCPDS #00-043-1051"}]}, "mark": {"type": "text", "align": "left", "baseline": "alphabetic", "font": "DejaVu Sans", "fontWeight": "bold", "fontSize": 24, "color": "black"},
 "encoding": {
  "x": {"field": "x", "type": "quantitative", "title": "2θ(°)", "scale": {"domain": [10, 94.57], "nice": false, "zero": false}},
  "y": {"field": "y", "type": "quantitative", "scale": {"domain": [0, 134], "range": [802, 668], "nice": false, "zero": false}, "axis": null},
  "text": {"field": "t"}}},
{"data": {"values": [{"x": 50.41, "y": 97, "t": "2"}]}, "mark": {"type": "text", "align": "left", "baseline": "alphabetic", "font": "DejaVu Sans", "fontWeight": "bold", "fontSize": 20, "color": "black"},
 "encoding": {
  "x": {"field": "x", "type": "quantitative", "title": "2θ(°)", "scale": {"domain": [10, 94.57], "nice": false, "zero": false}},
  "y": {"field": "y", "type": "quantitative", "scale": {"domain": [0, 134], "range": [802, 668], "nice": false, "zero": false}, "axis": null},
  "text": {"field": "t"}}}
]
}
]
}
